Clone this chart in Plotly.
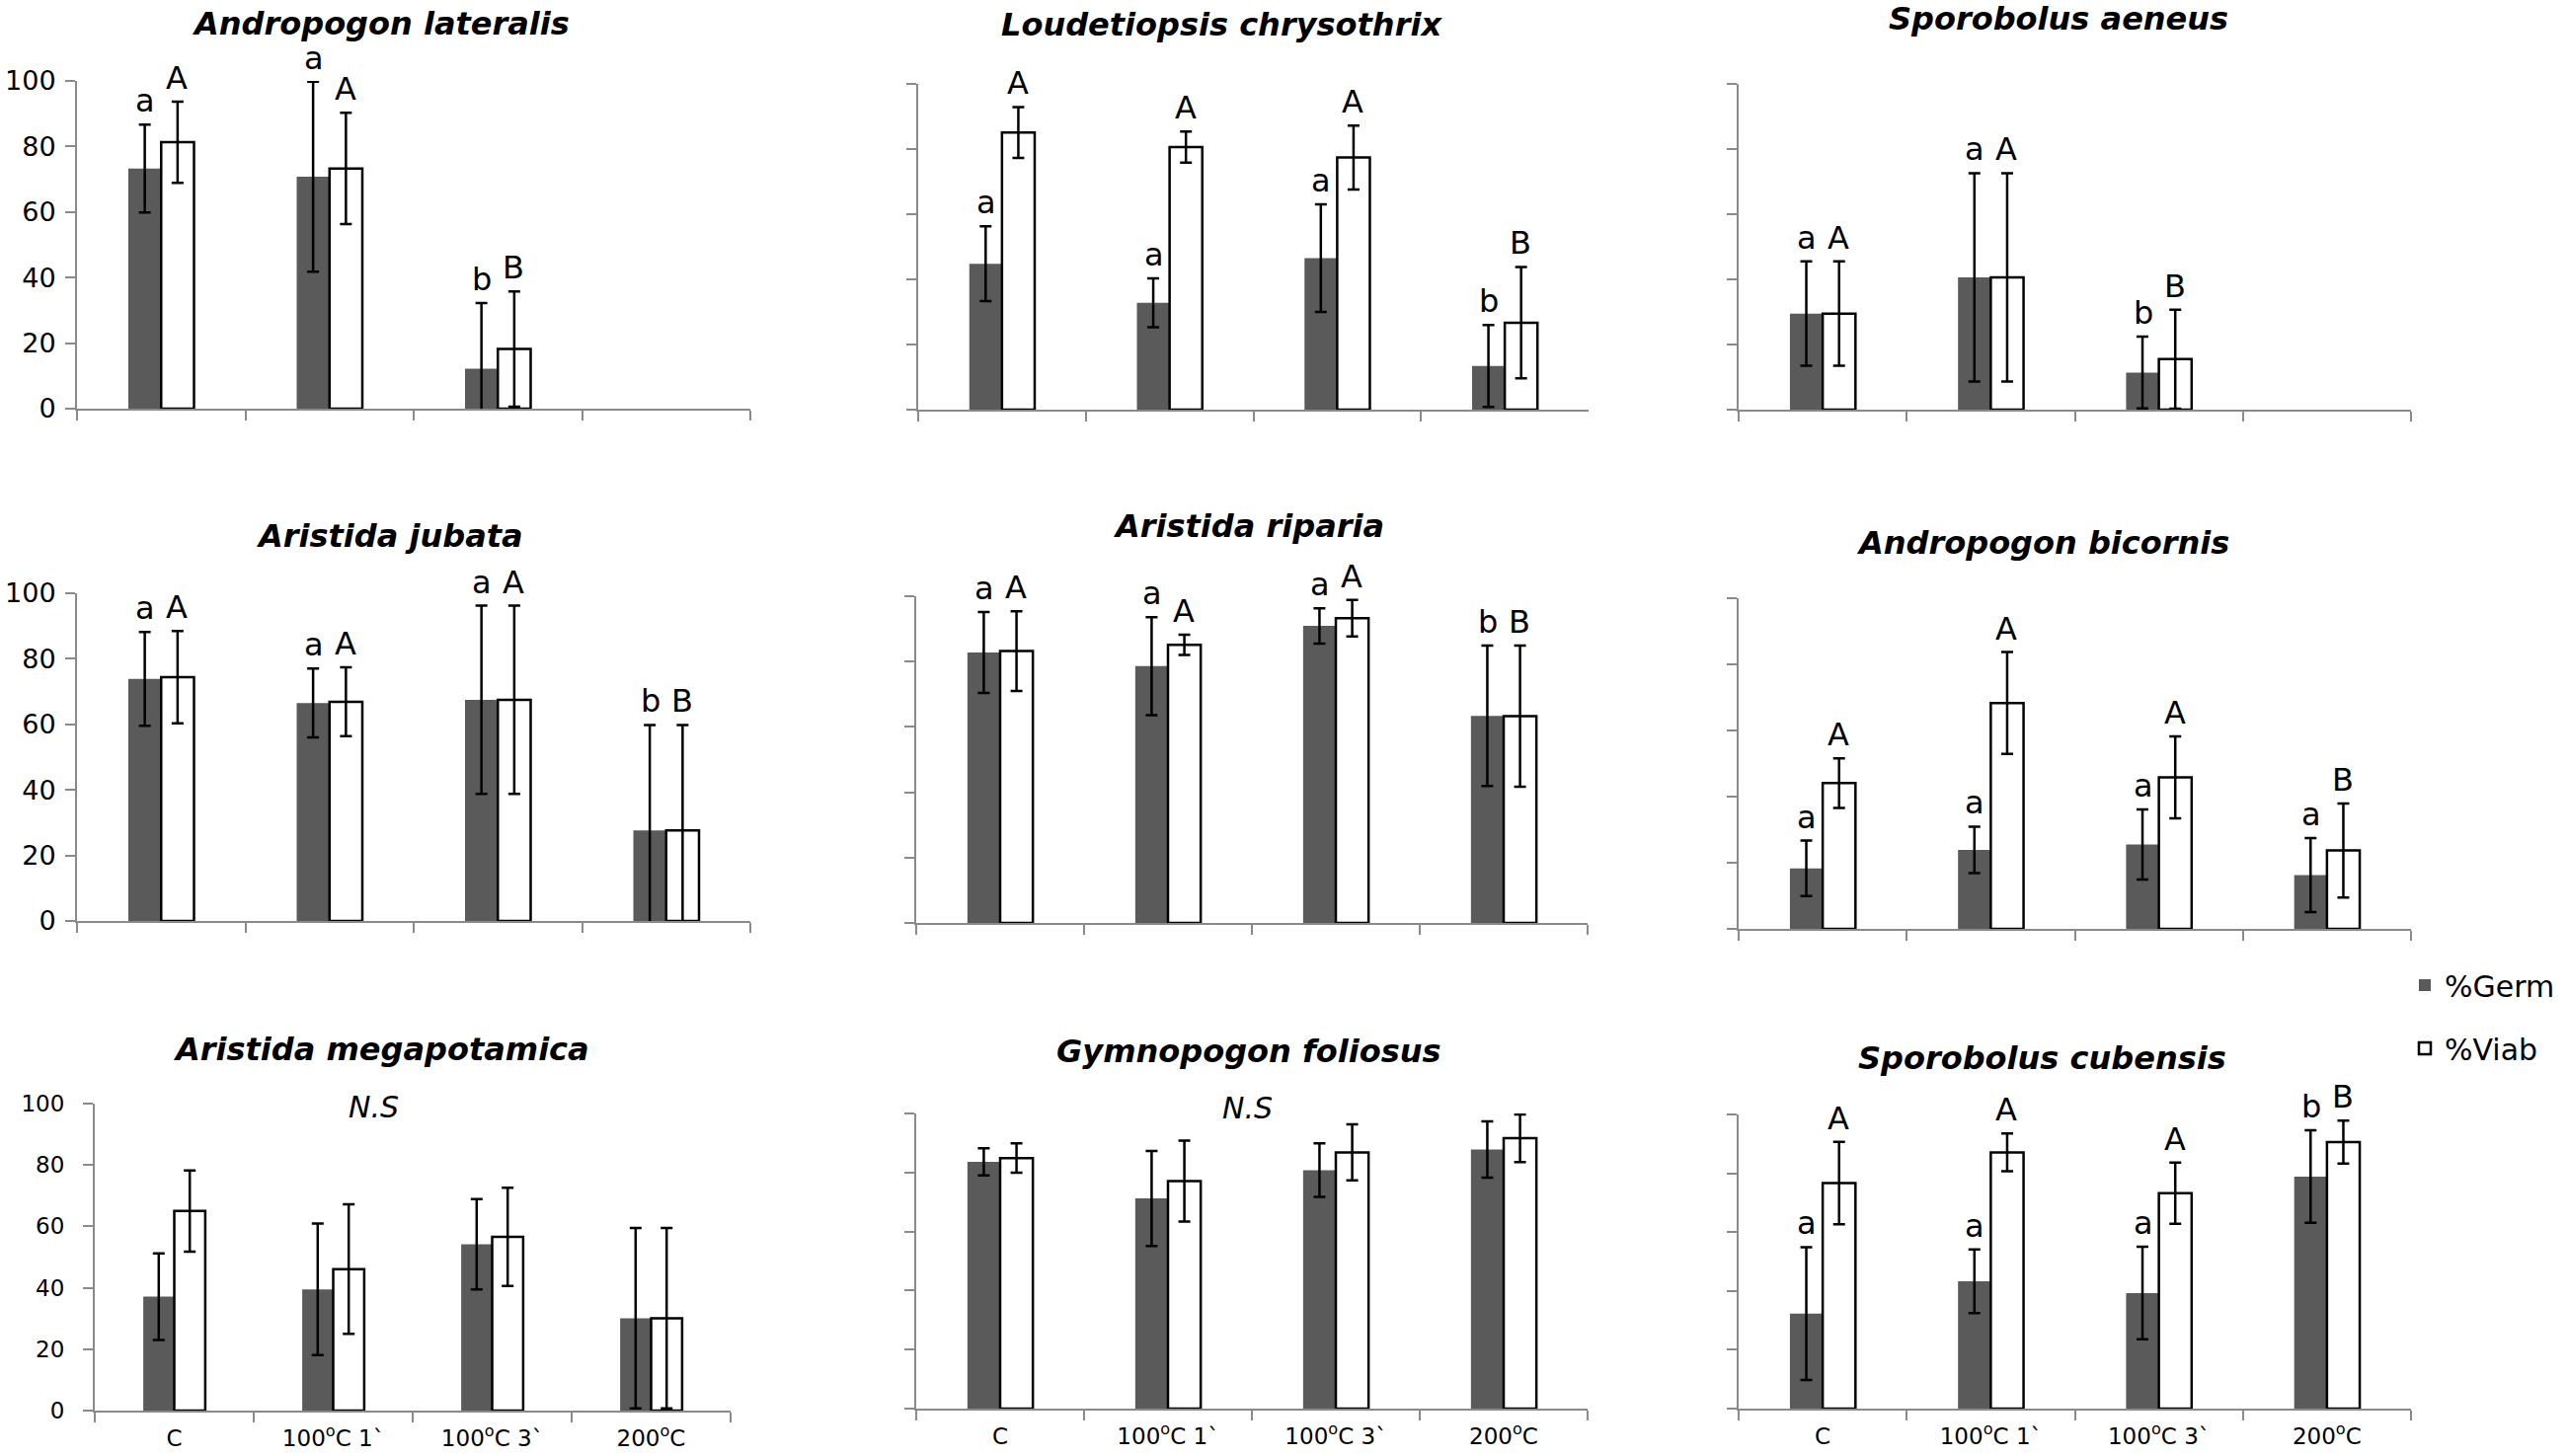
import plotly.graph_objects as go

W, H = 2600, 1475

# ---------------- data ----------------
categories = ["C", "100<sup>o</sup>C 1`", "100<sup>o</sup>C 3`", "200<sup>o</sup>C"]
series_names = ["%Germ", "%Viab"]

species = [
    "Andropogon lateralis", "Loudetiopsis chrysothrix", "Sporobolus aeneus",
    "Aristida jubata", "Aristida riparia", "Andropogon bicornis",
    "Aristida megapotamica", "Gymnopogon foliosus", "Sporobolus cubensis",
]

lateralis_germ = [73.3, 70.8, 12.2, None]
lateralis_germ_err = [13.4, 29.0, 20.0, None]
lateralis_viab = [81.3, 73.3, 18.2, None]
lateralis_viab_err = [12.4, 17.0, 17.6, None]
lateralis_germ_letters = ["a", "a", "b", ""]
lateralis_viab_letters = ["A", "A", "B", ""]

chrysothrix_germ = [44.8, 32.8, 46.5, 13.4]
chrysothrix_germ_err = [11.5, 7.5, 16.5, 12.6]
chrysothrix_viab = [85.1, 80.6, 77.4, 26.7]
chrysothrix_viab_err = [7.8, 4.8, 9.8, 17.1]
chrysothrix_germ_letters = ["a", "a", "a", "b"]
chrysothrix_viab_letters = ["A", "A", "A", "B"]

aeneus_germ = [29.5, 40.6, 11.4, None]
aeneus_germ_err = [16.0, 32.0, 11.0, None]
aeneus_viab = [29.5, 40.6, 15.5, None]
aeneus_viab_err = [16.0, 32.0, 15.2, None]
aeneus_germ_letters = ["a", "a", "b", ""]
aeneus_viab_letters = ["A", "A", "B", ""]

jubata_germ = [73.9, 66.5, 67.5, 27.6]
jubata_germ_err = [14.3, 10.5, 28.7, 32.2]
jubata_viab = [74.4, 66.9, 67.5, 27.6]
jubata_viab_err = [14.1, 10.5, 28.7, 32.2]
jubata_germ_letters = ["a", "a", "a", "b"]
jubata_viab_letters = ["A", "A", "A", "B"]

riparia_germ = [82.8, 78.6, 90.9, 63.4]
riparia_germ_err = [12.4, 15.0, 5.4, 21.5]
riparia_viab = [83.2, 85.1, 93.3, 63.3]
riparia_viab_err = [12.2, 3.1, 5.6, 21.6]
riparia_germ_letters = ["a", "a", "a", "b"]
riparia_viab_letters = ["A", "A", "A", "B"]

bicornis_germ = [18.3, 23.9, 25.5, 16.3]
bicornis_germ_err = [8.4, 7.0, 10.6, 11.2]
bicornis_viab = [44.1, 68.3, 45.8, 23.7]
bicornis_viab_err = [7.5, 15.4, 12.4, 14.2]
bicornis_germ_letters = ["a", "a", "a", "a"]
bicornis_viab_letters = ["A", "A", "A", "B"]

megapotamica_germ = [37.1, 39.5, 54.2, 30.1]
megapotamica_germ_err = [14.1, 21.4, 14.7, 29.4]
megapotamica_viab = [65.0, 46.1, 56.6, 30.1]
megapotamica_viab_err = [13.2, 21.1, 16.0, 29.4]
megapotamica_germ_letters = ["", "", "", ""]
megapotamica_viab_letters = ["", "", "", ""]

foliosus_germ = [83.6, 71.2, 80.8, 87.8]
foliosus_germ_err = [4.6, 16.1, 9.1, 9.5]
foliosus_viab = [84.9, 77.1, 86.8, 91.6]
foliosus_viab_err = [5.0, 13.7, 9.5, 8.1]
foliosus_germ_letters = ["", "", "", ""]
foliosus_viab_letters = ["", "", "", ""]

cubensis_germ = [32.3, 43.3, 39.3, 78.9]
cubensis_germ_err = [22.6, 10.8, 15.7, 15.7]
cubensis_viab = [76.7, 87.1, 73.2, 90.6]
cubensis_viab_err = [14.0, 6.4, 10.4, 7.3]
cubensis_germ_letters = ["a", "a", "a", "b"]
cubensis_viab_letters = ["A", "A", "A", "B"]

ns_note = "N.S"

panel_data = [
    (lateralis_germ, lateralis_germ_err, lateralis_viab, lateralis_viab_err, lateralis_germ_letters, lateralis_viab_letters, ""),
    (chrysothrix_germ, chrysothrix_germ_err, chrysothrix_viab, chrysothrix_viab_err, chrysothrix_germ_letters, chrysothrix_viab_letters, ""),
    (aeneus_germ, aeneus_germ_err, aeneus_viab, aeneus_viab_err, aeneus_germ_letters, aeneus_viab_letters, ""),
    (jubata_germ, jubata_germ_err, jubata_viab, jubata_viab_err, jubata_germ_letters, jubata_viab_letters, ""),
    (riparia_germ, riparia_germ_err, riparia_viab, riparia_viab_err, riparia_germ_letters, riparia_viab_letters, ""),
    (bicornis_germ, bicornis_germ_err, bicornis_viab, bicornis_viab_err, bicornis_germ_letters, bicornis_viab_letters, ""),
    (megapotamica_germ, megapotamica_germ_err, megapotamica_viab, megapotamica_viab_err, megapotamica_germ_letters, megapotamica_viab_letters, ns_note),
    (foliosus_germ, foliosus_germ_err, foliosus_viab, foliosus_viab_err, foliosus_germ_letters, foliosus_viab_letters, ns_note),
    (cubensis_germ, cubensis_germ_err, cubensis_viab, cubensis_viab_err, cubensis_germ_letters, cubensis_viab_letters, ""),
]

# ---------------- layout geometry (pixels) ----------------
# (x_left, x_right, y_top(=100), y_bottom(=0))
geom = [
    (78, 760, 82, 414), (930, 1609, 85, 415), (1761, 2442, 85, 415),
    (78, 760, 601, 933), (928, 1608, 604, 935), (1761, 2442, 606, 941),
    (96, 740, 1118, 1429), (928, 1608, 1128, 1427), (1761, 2442, 1129, 1427),
]
title_pos = [
    (386, 24), (1237, 25), (2085, 19),
    (394, 543), (1264, 533), (2069, 550),
    (386, 1063), (1265, 1065), (2068, 1072),
]
note_pos = {6: (378, 1121), 7: (1263, 1122)}

FONT = "DejaVu Sans"
DARK = "#5a5a5a"
AXC = "#8a8a8a"

fig = go.Figure()
annotations = []

for i, (germ, germ_err, viab, viab_err, gl, vl, note) in enumerate(panel_data):
    n = "" if i == 0 else str(i + 1)
    xa, ya = "x" + n, "y" + n
    fig.add_trace(go.Bar(
        x=categories, y=germ, name=series_names[0], legendgroup="germ",
        showlegend=(i == 0), xaxis=xa, yaxis=ya,
        marker=dict(color=DARK, line=dict(width=0)),
        error_y=dict(type="data", array=germ_err, visible=True,
                     color="black", thickness=2.5, width=6),
    ))
    fig.add_trace(go.Bar(
        x=categories, y=viab, name=series_names[1], legendgroup="viab",
        showlegend=(i == 0), xaxis=xa, yaxis=ya,
        marker=dict(color="white", line=dict(color="black", width=2.5)),
        error_y=dict(type="data", array=viab_err, visible=True,
                     color="black", thickness=2.5, width=6),
    ))

    x0, x1, yt, yb = geom[i]
    row, col = divmod(i, 3)
    fig.layout["xaxis" + n] = dict(
        domain=[x0 / W, x1 / W], anchor=ya, type="category",
        categoryorder="array", categoryarray=categories,
        range=[-0.5, 3.5], tickson="boundaries", ticks="outside",
        ticklen=10, tickwidth=2, tickcolor=AXC, showline=True,
        linecolor=AXC, linewidth=2, showgrid=False, zeroline=False,
        showticklabels=(row == 2), ticklabelstandoff=6, automargin=False,
        tickfont=dict(family=FONT, size=23, color="black"),
    )
    fig.layout["yaxis" + n] = dict(
        domain=[1 - yb / H, 1 - yt / H], anchor=xa, range=[0, 100],
        dtick=20, tick0=0, ticks="outside", ticklen=10, tickwidth=2,
        tickcolor=AXC, showline=True, linecolor=AXC, linewidth=2,
        showgrid=False, zeroline=False, showticklabels=(col == 0),
        ticklabelstandoff=(14 if row == 2 else 4), automargin=False,
        tickfont=dict(family=FONT, size=(23 if row == 2 else 27), color="black"),
    )

    tx, ty = title_pos[i]
    annotations.append(dict(
        text=species[i], x=tx / W, y=1 - ty / H, xref="paper", yref="paper",
        xanchor="center", yanchor="middle", showarrow=False,
        font=dict(family=FONT, size=32, color="black", weight="bold", style="italic"),
    ))
    if note:
        nx, ny = note_pos[i]
        annotations.append(dict(
            text=note, x=nx / W, y=1 - ny / H, xref="paper", yref="paper",
            xanchor="center", yanchor="middle", showarrow=False,
            font=dict(family=FONT, size=30, color="black", style="italic"),
        ))
    for vals, errs, letters, shift in ((germ, germ_err, gl, -16), (viab, viab_err, vl, 16)):
        for c, v, e, t in zip(categories, vals, errs, letters):
            if not t or v is None:
                continue
            annotations.append(dict(
                text=t, x=c, y=v + (e or 0), xref=xa, yref=ya,
                xanchor="center", yanchor="bottom", xshift=shift, yshift=3,
                showarrow=False,
                font=dict(family=FONT, size=32, color="black"),
            ))

fig.update_layout(
    width=W, height=H, autosize=False,
    margin=dict(l=0, r=0, t=0, b=0, pad=0, autoexpand=False),
    paper_bgcolor="white", plot_bgcolor="white",
    barmode="group", bargap=0.61, bargroupgap=0,
    annotations=annotations,
    showlegend=True,
    legend=dict(
        x=2436 / W, y=1 - 972 / H, xanchor="left", yanchor="top",
        font=dict(family=FONT, size=30, color="black"),
        tracegroupgap=22, bgcolor="rgba(0,0,0,0)",
    ),
)

page_fix = """
document.documentElement.style.margin = '0';
document.documentElement.style.overflow = 'hidden';
document.body.style.margin = '0';
document.body.style.padding = '0';
document.body.style.overflow = 'hidden';
"""

fig.write_html("out.html", post_script=page_fix, config={"displayModeBar": False})
